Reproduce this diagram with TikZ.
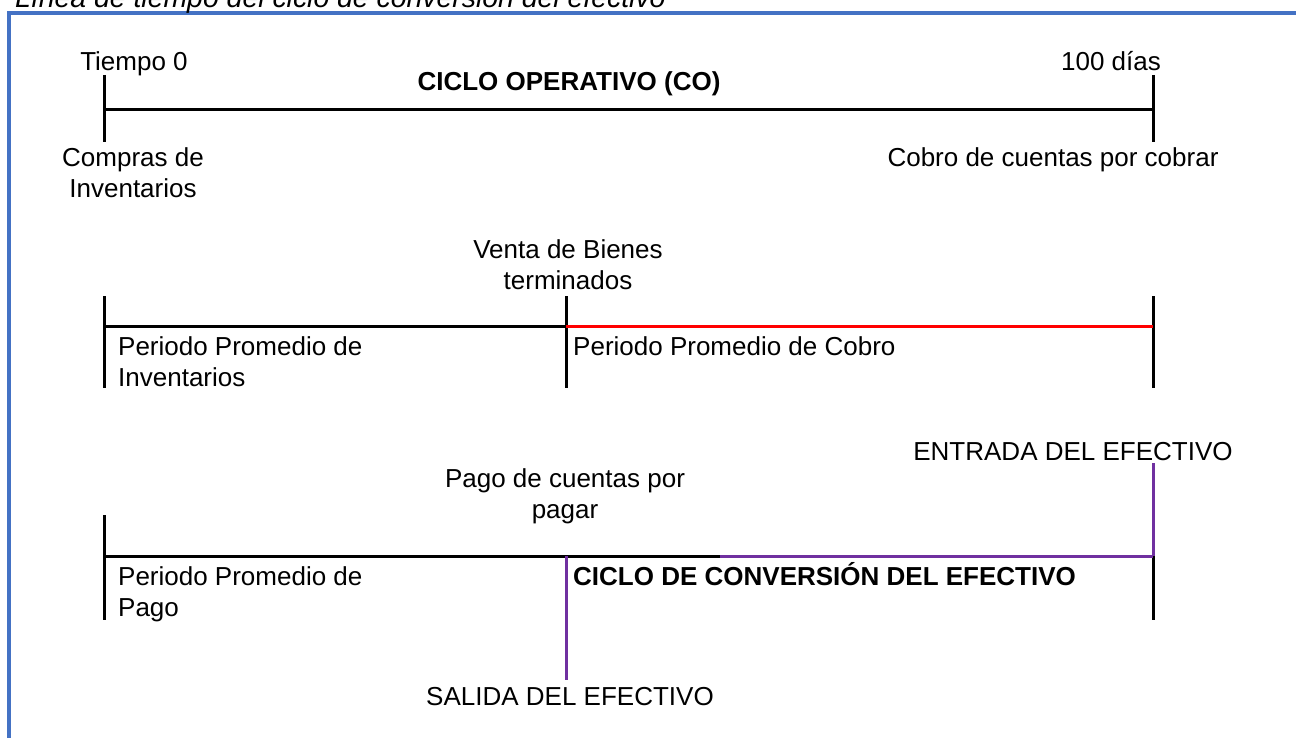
\documentclass[tikz,border=0pt]{standalone}
\usepackage{fontspec}
\setmainfont{Liberation Sans}
\definecolor{frameblue}{HTML}{4472C4}
\definecolor{cashpurple}{HTML}{7030A0}
\definecolor{cobrored}{HTML}{FF0000}
\begin{document}
\begin{tikzpicture}[x=1pt,y=-1pt,
  lbl/.style={inner sep=0pt, font=\fontsize{26}{31}\selectfont},
  lblb/.style={lbl, font=\fontsize{26}{31}\selectfont\bfseries},
  ln/.style={line width=3pt, draw=black},
  lnred/.style={line width=3pt, draw=cobrored},
  lnpur/.style={line width=3pt, draw=cashpurple}]
\useasboundingbox (0,0) rectangle (1296,738);
\clip (0,0) rectangle (1296,738);
% frame
\coordinate (fb) at (9,760);
\coordinate (fc) at (9,13.5);
\coordinate (fr) at (1320,13.5);
\draw[draw=frameblue, line width=4pt, line join=miter] (fb) -- (fc) -- (fr);
\node[lbl, font=\fontsize{28.4}{31}\selectfont\itshape, anchor=base west] (cap) at (15,8) {Línea de tiempo del ciclo de conversión del efectivo};
% line 1
\coordinate (a0) at (104,110); \coordinate (a1) at (1153,110);
\coordinate (a0t) at (104,75); \coordinate (a0b) at (104,142);
\coordinate (a1t) at (1153,75); \coordinate (a1b) at (1153,142);
\draw[ln] (a0t) -- (a0b);
\draw[ln] (a1t) -- (a1b);
\draw[ln] (a0) -- (a1);
\node[lbl, anchor=base] (t0) at (134,71) {Tiempo 0};
\node[lbl, anchor=base] (t100) at (1111,71) {100 días};
\node[lblb, anchor=base] (co) at (569,91) {CICLO OPERATIVO (CO)};
\node[lbl, anchor=base, align=center] (compras) at (133,198) {Compras de\\Inventarios};
\node[lbl, anchor=base] (cobro) at (1053,167) {Cobro de cuentas por cobrar};
% line 2
\coordinate (b0) at (104,326); \coordinate (bm) at (566,326); \coordinate (b1) at (1153,326);
\coordinate (b0t) at (104,296); \coordinate (b0b) at (104,388);
\coordinate (bmt) at (566,296); \coordinate (bmb) at (566,388);
\coordinate (b1t) at (1153,296); \coordinate (b1b) at (1153,388);
\draw[ln] (b0t) -- (b0b);
\draw[ln] (bmt) -- (bmb);
\draw[ln] (b1t) -- (b1b);
\draw[ln] (b0) -- (bm);
\draw[lnred] (bm) -- (b1);
\node[lbl, anchor=base, align=center] (venta) at (568,289) {Venta de Bienes\\terminados};
\node[lbl, anchor=base west, align=left] (ppi) at (118,386) {Periodo Promedio de\\Inventarios};
\node[lbl, anchor=base west] (ppc) at (573,355) {Periodo Promedio de Cobro};
% line 3
\coordinate (c0) at (104,556); \coordinate (cs) at (566,556); \coordinate (cm) at (720,556); \coordinate (c1) at (1153,556);
\coordinate (c0t) at (104,515); \coordinate (c0b) at (104,620);
\coordinate (csb) at (566,680);
\coordinate (c1t) at (1153,463); \coordinate (c1b) at (1153,620);
\draw[ln] (c0t) -- (c0b);
\draw[ln] (c1) -- (c1b);
\draw[ln] (c0) -- (cm);
\draw[lnpur] (cm) -- (c1);
\draw[lnpur] (c1t) -- (c1);
\draw[lnpur] (cs) -- (csb);
\node[lbl, anchor=base] (entrada) at (1073,460) {ENTRADA DEL EFECTIVO};
\node[lbl, anchor=base, align=center] (pago) at (565,518) {Pago de cuentas por\\pagar};
\node[lbl, anchor=base west, align=left] (ppp) at (118,616) {Periodo Promedio de\\Pago};
\node[lblb, anchor=base west] (cce) at (573,585) {CICLO DE CONVERSIÓN DEL EFECTIVO};
\node[lbl, anchor=base] (salida) at (570,705) {SALIDA DEL EFECTIVO};
\end{tikzpicture}
\end{document}
